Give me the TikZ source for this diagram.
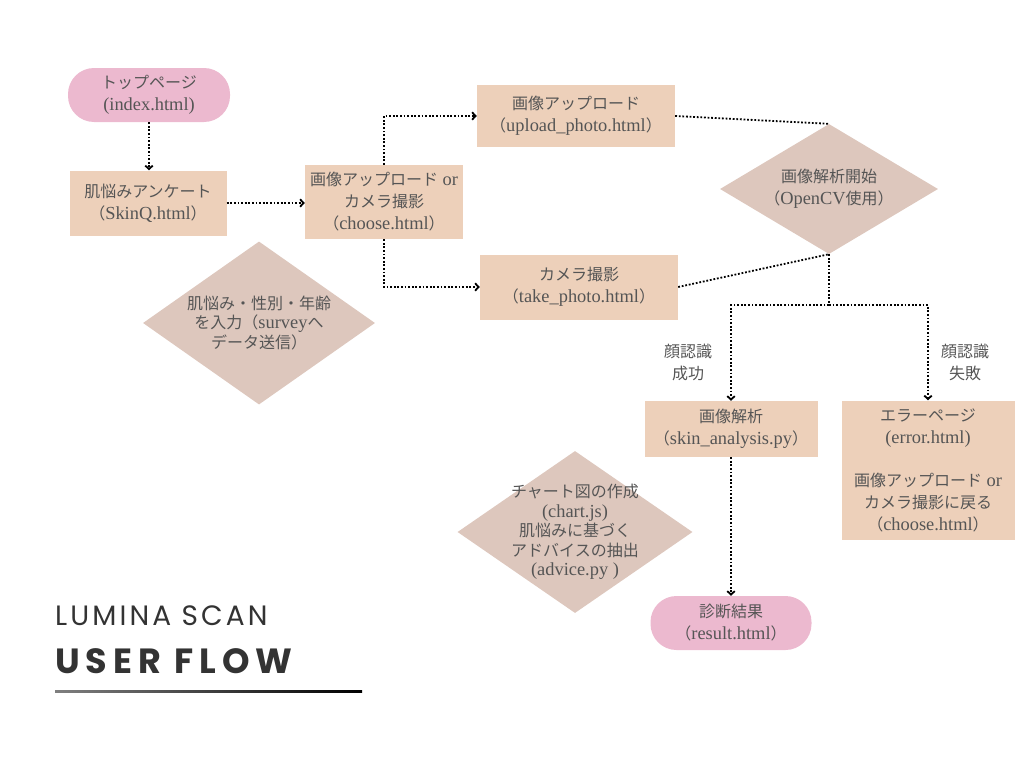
\documentclass[tikz,border=0pt]{standalone}
\usepackage{fontspec}
\setmainfont{Liberation Serif}[Scale=1.15]
\newfontfamily\jp{Noto Sans CJK JP}
\newfontfamily\ttl{Poppins}[LetterSpace=11]
\newfontfamily\ttlb{Poppins}[LetterSpace=17]
\usetikzlibrary{shapes.geometric,arrows.meta,positioning}

\definecolor{pinkbox}{RGB}{236,185,207}
\definecolor{peach}{RGB}{237,208,186}
\definecolor{taupe}{RGB}{221,199,189}
\definecolor{ink}{RGB}{85,85,85}
\newcommand{\ja}[1]{{\jp #1}}

\begin{document}
\begin{tikzpicture}[x=1pt,y=-1pt,
  every node/.style={font=\fontsize{16}{22}\selectfont,text=ink,align=center},
  terminal/.style={fill=pinkbox,rounded corners=26pt,inner sep=0pt},
  pagebox/.style={fill=peach,inner sep=0pt},
  decision/.style={diamond,fill=taupe,inner sep=0pt},
  dtext/.style={font=\fontsize{16}{19.5}\selectfont,text=ink,align=center},
  link/.style={line width=1.8pt,dash pattern=on 1.8pt off 1.8pt},
  flow/.style={link,-{Straight Barb[length=3.5pt,width=7.5pt]}}]
\useasboundingbox (0,0) rectangle (1024,768);

\node[terminal,minimum width=162,minimum height=54] (top) at (149,95)
  {\ja{トップページ}\\(index.html)};
\node[pagebox,minimum width=157,minimum height=65] (skinq) at (148,203)
  {\ja{肌悩みアンケート}\\\ja{（}SkinQ.html\ja{）}};
\node[pagebox,minimum width=158,minimum height=74] (choose) at (384,202)
  {\ja{画像アップロード} or\\\ja{カメラ撮影}\\\ja{（}choose.html\ja{）}};
\node[pagebox,minimum width=198,minimum height=62] (upload) at (576,116)
  {\ja{画像アップロード}\\\ja{（}upload\_photo.html\ja{）}};
\node[pagebox,minimum width=198,minimum height=65] (take) at (579,287)
  {\ja{カメラ撮影}\\\ja{（}take\_photo.html\ja{）}};
\node[decision,minimum width=218,minimum height=130,
  label={[dtext,font=\fontsize{16}{22}\selectfont]center:\ja{画像解析開始}\\\ja{（}OpenCV\ja{使用）}}]
  (opencv) at (829,189) {};
\node[decision,minimum width=232,minimum height=163,
  label={[dtext]center:\ja{肌悩み・性別・年齢}\\\ja{を入力（}survey\ja{へ}\\\ja{データ送信）}}]
  (survey) at (259,323) {};
\node[pagebox,minimum width=173,minimum height=56] (analysis) at (731,429)
  {\ja{画像解析}\\\ja{（}skin\_analysis.py\ja{）}};
\node[pagebox,minimum width=173,minimum height=139] (error) at (928,470)
  {\ja{エラーページ}\\(error.html)\\[21pt]\ja{画像アップロード} or\\\ja{カメラ撮影に戻る}\\\ja{（}choose.html\ja{）}};
\node[decision,minimum width=235,minimum height=162,
  label={[dtext]center:\ja{チャート図の作成}\\(chart.js)\\\ja{肌悩みに基づく}\\\ja{アドバイスの抽出}\\(advice.py )}]
  (chart) at (575,532) {};
\node[terminal,minimum width=161,minimum height=54] (result) at (731,623)
  {\ja{診断結果}\\\ja{（}result.html\ja{）}};
\node (okay) at (688,362) {\ja{顔認識}\\\ja{成功}};
\node (fail) at (965,362) {\ja{顔認識}\\\ja{失敗}};
\coordinate (fork) at (829,305);

\draw[flow] (top.south) -- (top.south |- skinq.north);
\draw[flow] (skinq.east) -- (choose.west |- skinq.east);
\draw[flow] (choose.north) |- (upload.west);
\draw[flow] (choose.south) |- (take.west);
\draw[link] (upload.east) -- (opencv.north);
\draw[link] (take.east) -- (opencv.south);
\draw[link] (opencv.south) -- (fork);
\draw[flow] (fork) -| (analysis.north);
\draw[flow] (fork) -| (error.north);
\draw[flow] (analysis.south) -- (result.north);

\node[anchor=base west,inner sep=0pt,text=black!80,font=\ttl\fontsize{28}{30}\selectfont] (brand) at (55,625) {LUMINA SCAN};
\node[anchor=base west,inner sep=0pt,text=black!80,font=\ttlb\bfseries\fontsize{35}{38}\selectfont] (heading) at (55,673) {USER FLOW};
\shade[left color=black!50,right color=black] (55,690.5) rectangle (362,692);
\end{tikzpicture}
\end{document}
